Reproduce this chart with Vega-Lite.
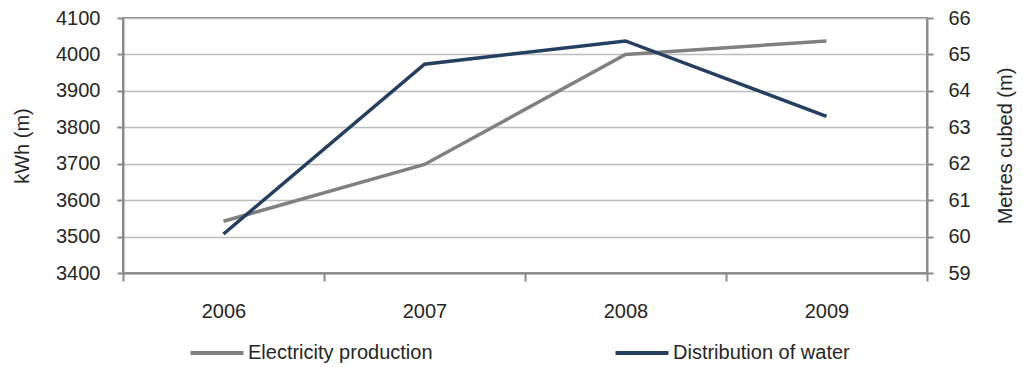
{
  "$schema": "https://vega.github.io/schema/vega-lite/v6.json",
  "width": 804,
  "height": 255,
  "autosize": {"type": "none"},
  "padding": {"left": 123, "top": 18, "right": 96, "bottom": 94},
  "background": "white",
  "config": {
    "font": "Liberation Sans",
    "view": {"stroke": "#8a8a8a", "strokeWidth": 2},
    "axis": {
      "labelFontSize": 20,
      "labelColor": "#262626",
      "titleFontSize": 20,
      "titleFontWeight": "normal",
      "titleColor": "#262626",
      "domainColor": "#8a8a8a",
      "domainWidth": 2,
      "tickColor": "#8a8a8a",
      "tickWidth": 2,
      "gridColor": "#bdbdbd",
      "gridWidth": 1.5
    },
    "legend": {
      "labelFontSize": 20,
      "labelColor": "#262626",
      "padding": 0
    }
  },
  "data": {
    "values": [
      {"year": "2006", "series": "Electricity production", "value": 3542},
      {"year": "2007", "series": "Electricity production", "value": 3698},
      {"year": "2008", "series": "Electricity production", "value": 4000},
      {"year": "2009", "series": "Electricity production", "value": 4037},
      {"year": "2006", "series": "Distribution of water", "value": 60.07},
      {"year": "2007", "series": "Distribution of water", "value": 64.73},
      {"year": "2008", "series": "Distribution of water", "value": 65.37},
      {"year": "2009", "series": "Distribution of water", "value": 63.3}
    ]
  },
  "encoding": {
    "x": {
      "field": "year",
      "type": "ordinal",
      "scale": {"type": "band", "paddingInner": 0, "paddingOuter": 0},
      "axis": {
        "title": null,
        "labelAngle": 0,
        "tickBand": "extent",
        "tickSize": 8,
        "labelPadding": 20,
        "grid": false
      }
    },
    "color": {
      "field": "series",
      "type": "nominal",
      "scale": {
        "domain": ["Electricity production", "Distribution of water"],
        "range": ["#808080", "#243f60"]
      },
      "legend": {
        "title": null,
        "orient": "none",
        "direction": "horizontal",
        "legendX": 84,
        "legendY": 325,
        "symbolType": "M-5,0H5",
        "symbolSize": 112,
        "symbolStrokeWidth": 4,
        "labelOffset": 21,
        "columnPadding": 174,
        "labelLimit": 400
      }
    }
  },
  "layer": [
    {
      "transform": [{"filter": "datum.series === 'Electricity production'"}],
      "mark": {"type": "line", "strokeWidth": 3.5},
      "encoding": {
        "y": {
          "field": "value",
          "type": "quantitative",
          "scale": {"domain": [3400, 4100], "zero": false, "nice": false},
          "axis": {
            "title": "kWh (m)",
            "orient": "left",
            "format": "d",
            "values": [3400, 3500, 3600, 3700, 3800, 3900, 4000, 4100],
            "tickSize": 6,
            "labelPadding": 17,
            "grid": true,
            "titleAngle": 270,
            "titleX": -101,
            "titleY": 127.5,
            "titleAlign": "center",
            "titleBaseline": "middle"
          }
        }
      }
    },
    {
      "transform": [{"filter": "datum.series === 'Distribution of water'"}],
      "mark": {"type": "line", "strokeWidth": 3.5},
      "encoding": {
        "y": {
          "field": "value",
          "type": "quantitative",
          "scale": {"domain": [59, 66], "zero": false, "nice": false},
          "axis": {
            "title": "Metres cubed (m)",
            "orient": "right",
            "format": "d",
            "values": [59, 60, 61, 62, 63, 64, 65, 66],
            "tickSize": 6,
            "labelPadding": 15,
            "grid": false,
            "titleAngle": 270,
            "titleX": 78,
            "titleY": 127.5,
            "titleAlign": "center",
            "titleBaseline": "middle"
          }
        }
      }
    }
  ],
  "resolve": {"scale": {"y": "independent"}}
}
